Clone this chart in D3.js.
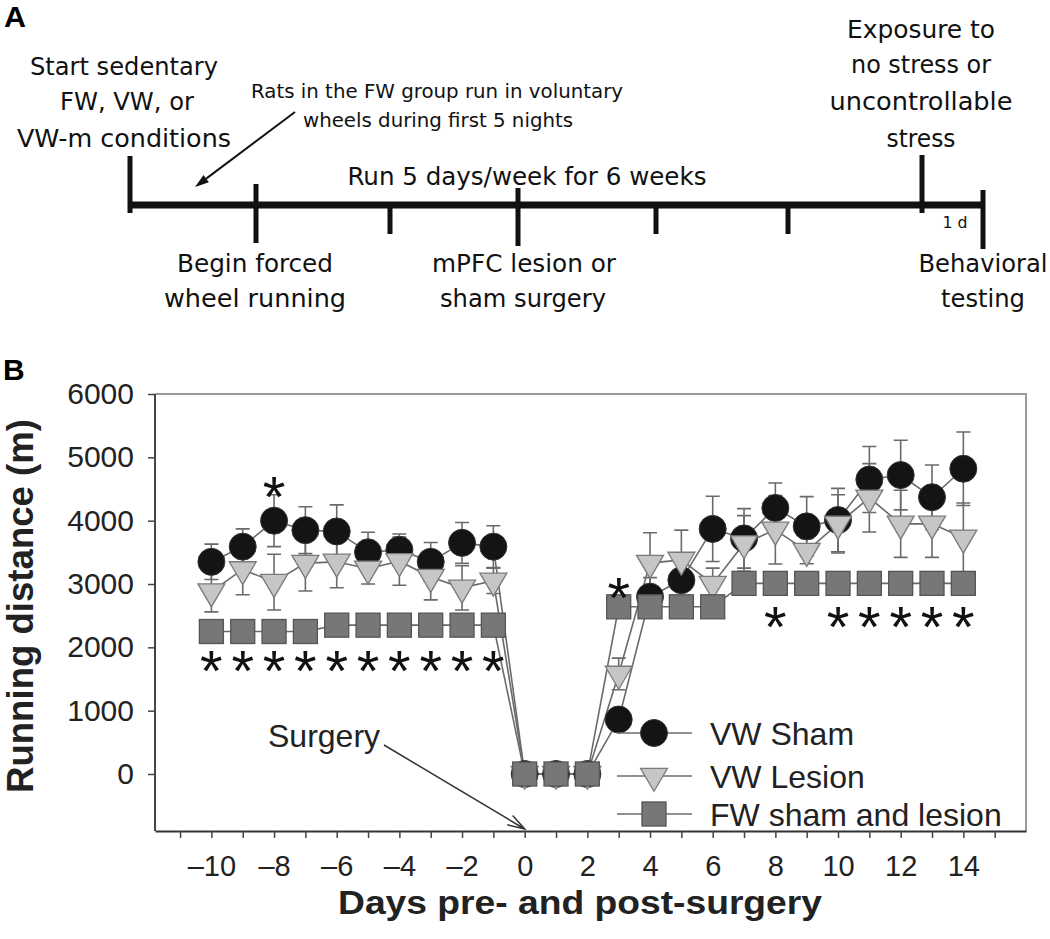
<!DOCTYPE html>
<html>
<head>
<meta charset="utf-8">
<script src="https://cdn.jsdelivr.net/npm/d3@7"></script>
<style>
  html, body { margin: 0; padding: 0; background: #fff; }
  svg { display: block; }
</style>
</head>
<body>
<svg id="chart" width="1050" height="939"></svg>
<script>
// ---------- DATA ----------
const days = [-10,-9,-8,-7,-6,-5,-4,-3,-2,-1,0,1,2,3,4,5,6,7,8,9,10,11,12,13,14];
const vwSham    = [3350,3590,4000,3850,3830,3500,3540,3350,3650,3590, 0,0,0, 860,2800,3060,3870,3720,4200,3910,4010,4650,4720,4370,4820];
const vwShamErr = [ 280, 280, 410, 370, 420, 316, 250, 306, 322, 330, 0,0,0, 120, 300, 300, 515, 470, 395, 470, 500, 520, 550, 510, 580];
const vwLesion    = [2880,3230,3030,3330,3350,3240,3360,3110,2940,3050, 0,0,0, 1580,3330,3380,3000,3640,3855,3520,3950,4360,3950,3950,3730];
const vwLesionErr = [ 320, 400, 440, 440, 410, 240, 380, 360, 350, 200, 0,0,0,  250, 480, 470, 250, 440, 540, 200, 460, 540, 530, 530, 550];
const fw = [2250,2250,2250,2250,2350,2350,2350,2350,2350,2350, 0,0,0, 2640,2640,2640,2640,3010,3010,3010,3010,3010,3010,3010,3010];
const yTicks = [0,1000,2000,3000,4000,5000,6000];
const xTicks = d3.range(-11, 16);
const xLabelled = [-10,-8,-6,-4,-2,0,2,4,6,8,10,12,14];
const legendNames = ["VW Sham", "VW Lesion", "FW sham and lesion"];
const starsPreDays = [-10,-9,-8,-7,-6,-5,-4,-3,-2,-1];
const starsPreValue = 1860;
const starsPostDays = [8,10,11,12,13,14];
const starsPostValue = 2560;
const starsAbove = [[-8, 4600], [3, 3010]];

// Panel A timeline texts
const timelineTexts = [
  {t:"Start sedentary", x:124, y:75, w:188, fs:25},
  {t:"FW, VW, or", x:127, y:110, w:134, fs:25},
  {t:"VW-m conditions", x:124, y:147, w:214, fs:25},
  {t:"Rats in the FW group run in voluntary", x:437, y:98, w:372, fs:19},
  {t:"wheels during first 5 nights", x:438, y:127, w:270, fs:19},
  {t:"Run 5 days/week for 6 weeks", x:527, y:185, w:359, fs:25},
  {t:"Exposure to", x:921, y:38, w:148, fs:25},
  {t:"no stress or", x:921, y:73, w:140, fs:25},
  {t:"uncontrollable", x:921, y:110, w:183, fs:25},
  {t:"stress", x:921, y:147, w:69, fs:25},
  {t:"1 d", x:955, y:228, w:25, fs:15},
  {t:"Begin forced", x:255, y:272, w:156, fs:25},
  {t:"wheel running", x:255, y:307, w:182, fs:25},
  {t:"mPFC lesion or", x:524, y:272, w:184, fs:25},
  {t:"sham surgery", x:523, y:307, w:166, fs:25},
  {t:"Behavioral", x:983, y:272, w:129, fs:25},
  {t:"testing", x:983, y:307, w:84, fs:25}
];

// ---------- DRAW ----------
const svg = d3.select("#chart");
const condFont = "'Liberation Sans Narrow','DejaVu Sans Condensed','Arial Narrow','Liberation Sans',sans-serif";
const sansFont = "'Liberation Sans', Arial, Helvetica, sans-serif";

// Panel labels
svg.append("text").attr("x", 4).attr("y", 27).text("A")
  .attr("font-family", sansFont).attr("font-weight", "bold").attr("font-size", 30)
  .attr("textLength", 22).attr("lengthAdjust", "spacingAndGlyphs");
svg.append("text").attr("x", 3).attr("y", 380).text("B")
  .attr("font-family", sansFont).attr("font-weight", "bold").attr("font-size", 30);

// ---------- Panel A: timeline ----------
const gA = svg.append("g");
const tl = d3.scaleLinear().domain([0, 1]).range([130, 985]);
gA.append("line").attr("x1", tl(0)).attr("x2", tl(1)).attr("y1", 205).attr("y2", 205)
  .attr("stroke", "#111").attr("stroke-width", 7);
const tlTicks = [
  {x:130, y1:156, y2:213}, {x:256, y1:184, y2:243}, {x:390, y1:205, y2:234},
  {x:518, y1:188, y2:246}, {x:656, y1:205, y2:234}, {x:788, y1:205, y2:234},
  {x:922, y1:155, y2:213}, {x:983, y1:190, y2:249}
];
gA.selectAll("line.tk").data(tlTicks).join("line").attr("class","tk")
  .attr("x1", d => d.x).attr("x2", d => d.x).attr("y1", d => d.y1).attr("y2", d => d.y2)
  .attr("stroke", "#111").attr("stroke-width", 5);
gA.selectAll("text.tt").data(timelineTexts).join("text").attr("class","tt")
  .attr("x", d => d.x).attr("y", d => d.y).text(d => d.t)
  .attr("text-anchor", "middle").attr("font-family", condFont).attr("font-size", d => d.fs)
  .attr("textLength", d => d.w).attr("lengthAdjust", "spacingAndGlyphs").attr("fill", "#111");
// arrow in panel A
(function(){
  const x1 = 295, y1 = 112, x2 = 195, y2 = 187;
  const ang = Math.atan2(y2 - y1, x2 - x1);
  const L = 14, W = 4.5;
  const bx = x2 - L * Math.cos(ang), by = y2 - L * Math.sin(ang);
  gA.append("line").attr("x1", x1).attr("y1", y1).attr("x2", bx).attr("y2", by)
    .attr("stroke", "#111").attr("stroke-width", 2);
  gA.append("path").attr("d", `M${x2},${y2}L${bx + W*Math.sin(ang)},${by - W*Math.cos(ang)}L${bx - W*Math.sin(ang)},${by + W*Math.cos(ang)}Z`)
    .attr("fill", "#111");
})();

// ---------- Panel B ----------
const x = d3.scaleLinear().domain([-11.8, 16]).range([155, 1026]);
const y = d3.scaleLinear().domain([-900, 6000]).range([831, 394]);

// frame (top and right)
svg.append("path").attr("d", `M${x.range()[0]},${y(6000)}H${x.range()[1]}V${y(-900)}`)
  .attr("fill", "none").attr("stroke", "#9a9a9a").attr("stroke-width", 2);

const yAxis = svg.append("g").attr("transform", `translate(${x.range()[0]},0)`)
  .call(d3.axisLeft(y).tickValues(yTicks).tickSize(7).tickSizeOuter(0).tickPadding(14).tickFormat(d3.format("d")));
yAxis.select(".domain").attr("stroke", "#444").attr("stroke-width", 2).attr("d", `M0,${y(6000)}V${y(-900)}`);
yAxis.selectAll(".tick line").attr("stroke", "#444").attr("stroke-width", 1.5);
yAxis.selectAll(".tick text").attr("font-family", sansFont).attr("font-size", 30).attr("fill", "#222");

const xAxis = svg.append("g").attr("transform", `translate(0,${y(-900)})`)
  .call(d3.axisBottom(x).tickValues(xTicks).tickSize(7).tickSizeOuter(0).tickPadding(17)
    .tickFormat(d => xLabelled.includes(d) ? (d < 0 ? "\u2013" + Math.abs(d) : String(d)) : ""));
xAxis.select(".domain").attr("stroke", "#333").attr("stroke-width", 2);
xAxis.selectAll(".tick line").attr("stroke", "#444").attr("stroke-width", 1.5);
xAxis.selectAll(".tick text").filter(function(){ return this.textContent === ""; }).remove();
xAxis.selectAll(".tick text").attr("font-family", sansFont).attr("font-size", 29).attr("fill", "#222");

// axis titles
svg.append("text").attr("x", 580).attr("y", 914).attr("text-anchor", "middle")
  .attr("font-family", sansFont).attr("font-weight", "bold").attr("font-size", 34).attr("fill", "#222")
  .attr("textLength", 484).attr("lengthAdjust", "spacingAndGlyphs")
  .text("Days pre- and post-surgery");
svg.append("text").attr("transform", "translate(33,606) rotate(-90)").attr("text-anchor", "middle")
  .attr("font-family", sansFont).attr("font-weight", "bold").attr("font-size", 36).attr("fill", "#222")
  .attr("textLength", 374).attr("lengthAdjust", "spacingAndGlyphs")
  .text("Running distance (m)");

const plot = svg.append("g");
const series = [
  {name: legendNames[0], v: vwSham, e: vwShamErr, kind: "circle"},
  {name: legendNames[1], v: vwLesion, e: vwLesionErr, kind: "tri"},
  {name: legendNames[2], v: fw, e: null, kind: "square"}
];

// error bars
const cap = 7;
series.filter(s => s.e).forEach(s => {
  const eg = plot.append("g").attr("stroke", "#6a6a6a").attr("stroke-width", 1.6).attr("fill", "none");
  days.forEach((d, i) => {
    if (!s.e[i]) return;
    const cx = x(d), yt = y(s.v[i] + s.e[i]), yb = y(s.v[i] - s.e[i]);
    eg.append("path").attr("d", `M${cx},${yt}V${yb}M${cx-cap},${yt}H${cx+cap}M${cx-cap},${yb}H${cx+cap}`);
  });
});

// lines
const lineGen = d3.line().x((d, i) => x(days[i])).y(d => y(d));
series.forEach(s => {
  plot.append("path").datum(s.v).attr("d", lineGen)
    .attr("fill", "none").attr("stroke", "#6a6a6a").attr("stroke-width", 1.6);
});

// markers
function marker(g, kind, cx, cy) {
  if (kind === "circle") {
    g.append("circle").attr("cx", cx).attr("cy", cy).attr("r", 13.5)
      .attr("fill", "#141414").attr("stroke", "#333").attr("stroke-width", 1);
  } else if (kind === "tri") {
    const hw = 13.5, h = 23;
    g.append("path").attr("d", `M${cx-hw},${cy-h/3}L${cx+hw},${cy-h/3}L${cx},${cy+2*h/3}Z`)
      .attr("fill", "#c6c6c6").attr("stroke", "#7a7a7a").attr("stroke-width", 1.3);
  } else {
    const s = 24;
    g.append("rect").attr("x", cx - s/2).attr("y", cy - s/2).attr("width", s).attr("height", s)
      .attr("fill", "#777").attr("stroke", "#555").attr("stroke-width", 1.3);
  }
}
series.forEach(s => {
  const mg = plot.append("g");
  days.forEach((d, i) => marker(mg, s.kind, x(d), y(s.v[i])));
});

// asterisks
const starFs = 58;
function star(cx, cy) {
  svg.append("text").attr("x", cx).attr("y", cy + 0.6 * starFs).attr("text-anchor", "middle")
    .attr("font-family", sansFont).attr("font-size", starFs).attr("fill", "#111").text("*");
}
starsPreDays.forEach(d => star(x(d), y(starsPreValue)));
starsPostDays.forEach(d => star(x(d), y(starsPostValue)));
starsAbove.forEach(([d, v]) => star(x(d), y(v)));

// Surgery annotation
svg.append("text").attr("x", 268).attr("y", 747).attr("font-family", sansFont).attr("font-size", 32)
  .attr("fill", "#222").text("Surgery");
(function(){
  const x1 = 384, y1 = 745, x2 = x(0), y2 = y(-900) - 2;
  const ang = Math.atan2(y2 - y1, x2 - x1);
  const L = 18, a = 0.3;
  svg.append("path")
    .attr("d", `M${x1},${y1}L${x2},${y2}M${x2 - L*Math.cos(ang - a)},${y2 - L*Math.sin(ang - a)}L${x2},${y2}L${x2 - L*Math.cos(ang + a)},${y2 - L*Math.sin(ang + a)}`)
    .attr("fill", "none").attr("stroke", "#333").attr("stroke-width", 1.5);
})();

// legend
const legY = [733, 776, 814];
const lg = svg.append("g");
series.forEach((s, i) => {
  lg.append("line").attr("x1", 617).attr("x2", 692).attr("y1", legY[i]).attr("y2", legY[i])
    .attr("stroke", "#6a6a6a").attr("stroke-width", 1.6);
  marker(lg, s.kind, 654, legY[i]);
  lg.append("text").attr("x", 710).attr("y", legY[i] + 12).attr("font-family", sansFont)
    .attr("font-size", 32).attr("fill", "#222").text(s.name);
});
</script>
</body>
</html>
